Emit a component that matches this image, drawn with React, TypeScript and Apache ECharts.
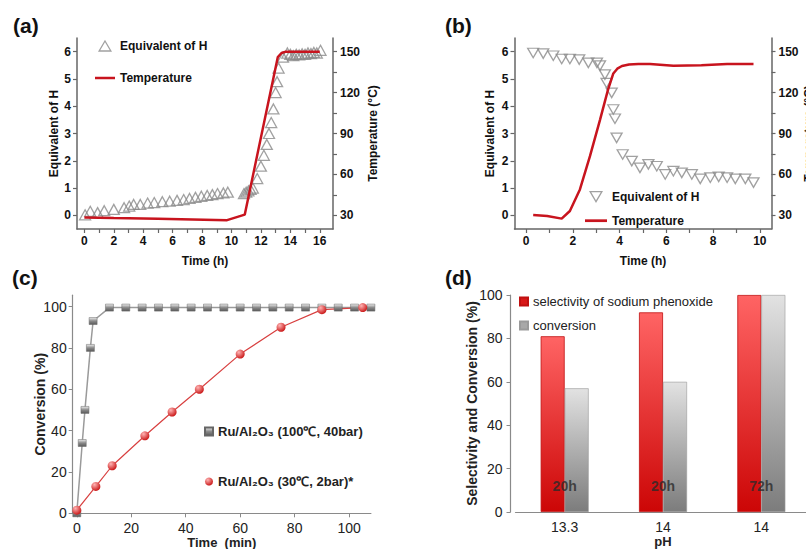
import React, { useEffect, useRef } from "react";
import * as echarts from "echarts";

// ---------- Panel (a) ----------
const aEqTime = [0.05, 0.4, 0.9, 1.35, 2.0, 2.7, 3.05, 3.35, 3.8, 4.3, 4.75, 5.3, 5.8, 6.3, 6.75, 7.15, 7.55, 7.95, 8.35, 8.7, 9.05, 9.45, 9.75,
  10.85, 11.0, 11.15, 11.3, 11.45,
  11.75, 12.0, 12.2, 12.4, 12.55, 12.7, 12.85, 13.0, 13.1, 13.2, 13.5,
  13.8, 14.0, 14.2, 14.4, 14.6, 14.8, 15.0, 15.2, 15.4, 15.6, 15.8, 16.05];
const aEqVal = [0.02, 0.15, 0.1, 0.17, 0.22, 0.28, 0.34, 0.4, 0.4, 0.45, 0.47, 0.5, 0.52, 0.55, 0.58, 0.62, 0.66, 0.7, 0.73, 0.76, 0.8, 0.82, 0.85,
  0.8, 0.85, 0.9, 0.95, 1.0,
  1.35, 1.8, 2.2, 2.6, 3.0, 3.4, 3.9, 4.5, 4.9, 5.4, 5.8,
  5.95, 5.9, 5.85, 5.9, 5.88, 5.92, 5.9, 5.95, 5.93, 5.97, 5.95, 6.05];
const aTempTime = [0, 2, 5, 9.7, 10.9, 13.15, 13.4, 13.7, 16];
const aTempVal = [28.5, 28, 27.5, 26.5, 30.5, 146, 149, 150, 150];

// ---------- Panel (b) ----------
const bEqTime = [0.3, 0.73, 1.16, 1.52, 1.87, 2.27, 2.66, 3.03, 3.16, 3.37, 3.44, 3.66, 3.73, 3.8, 3.87, 4.13, 4.52, 4.87, 5.23, 5.59,
  5.95, 6.3, 6.66, 7.09, 7.45, 7.88, 8.24, 8.6, 8.95, 9.38, 9.73];
const bEqVal = [5.95, 5.93, 5.85, 5.73, 5.73, 5.71, 5.59, 5.59, 5.49, 5.16, 4.85, 4.49, 3.88, 3.54, 2.84, 2.23, 1.99, 1.74, 1.87, 1.8,
  1.5, 1.62, 1.56, 1.5, 1.34, 1.38, 1.41, 1.38, 1.34, 1.34, 1.2];
const bTempTime = [0.3, 0.9, 1.52, 1.87, 2.3, 2.73, 3.16, 3.5, 3.73, 3.9, 4.1, 4.4, 4.8, 5.3, 6.3, 7.5, 8.6, 9.73];
const bTempVal = [30.2, 29.5, 27.6, 33.2, 49, 73.4, 100, 122, 134, 137.5, 139.5, 140.6, 141, 141, 139.7, 140, 141, 141];

const hLabels = [0, 1, 2, 3, 4, 5, 6];
const tempLabels = [30, 60, 90, 120, 150];
const tempTicks = [30, 45, 60, 75, 90, 105, 120, 135, 150];
const aTimeLabels = [0, 2, 4, 6, 8, 10, 12, 14, 16];
const aTimeTicks = [0, 1, 2, 3, 4, 5, 6, 7, 8, 9, 10, 11, 12, 13, 14, 15, 16];
const bTimeLabels = [0, 2, 4, 6, 8, 10];
const bTimeTicks = [0, 1, 2, 3, 4, 5, 6, 7, 8, 9, 10];

// ---------- Panel (c) ----------
const cGrayTime = [0, 2, 3, 5, 6, 12, 18, 24, 30, 36, 42, 48, 54, 60, 66, 72, 78, 84, 90, 96, 102, 108];
const cGrayVal = [0, 34, 50, 80, 93, 99.5, 99.5, 99.5, 99.5, 99.5, 99.5, 99.5, 99.5, 99.5, 99.5, 99.5, 99.5, 99.5, 99.5, 99.5, 99.5, 99.5];
const cRedTime = [0, 7, 13, 25, 35, 45, 60, 75, 90, 105];
const cRedVal = [1.5, 13, 23, 37.5, 49, 60, 77, 90, 98.5, 99.5];
const cLabels = [0, 20, 40, 60, 80, 100];
const cGrayName = "Ru/Al\u2082O\u2083 (100\u2103, 40bar)";
const cRedName = "Ru/Al\u2082O\u2083 (30\u2103, 2bar)*";

// ---------- Panel (d) ----------
const phLabels = ["13.3", "14", "14"];
const selectivity = [81, 92, 100];
const conversion = [57, 60, 100];
const durations = ["20h", "20h", "72h"];

const FONT = "'Liberation Sans', Arial, Helvetica, sans-serif";

const zip = (xs: number[], ys: number[]) => xs.map((x, i) => [x, ys[i]]);

const darkAxisLine = { show: true, onZero: false, lineStyle: { color: "#666", width: 1.5 } };
const boldLabel = { fontFamily: FONT, fontWeight: "bold", fontSize: 12, color: "#111" };
const boldName = { fontFamily: FONT, fontWeight: "bold", fontSize: 12, color: "#111" };
const greyAxisLine = { show: true, onZero: false, lineStyle: { color: "#8a8a8a", width: 1.2 } };
const plainLabel = { fontFamily: FONT, fontSize: 14, color: "#222" };
const boldName14 = { fontFamily: FONT, fontWeight: "bold", fontSize: 14, color: "#222" };
const boldName13 = { fontFamily: FONT, fontWeight: "bold", fontSize: 13, color: "#222" };

const redGrad = new echarts.graphic.LinearGradient(0, 0, 0, 1, [
  { offset: 0, color: "#ff6464" },
  { offset: 1, color: "#cc0606" },
]);
const grayGrad = new echarts.graphic.LinearGradient(0, 0, 0, 1, [
  { offset: 0, color: "#e2e2e2" },
  { offset: 1, color: "#7c7c7c" },
]);
const squareGrad = new echarts.graphic.LinearGradient(0, 0, 0, 1, [
  { offset: 0, color: "#eeeeee" },
  { offset: 0.5, color: "#8a8a8a" },
  { offset: 1, color: "#5a5a5a" },
]);
const redBall = new echarts.graphic.RadialGradient(0.35, 0.3, 0.75, [
  { offset: 0, color: "#ffb4b4" },
  { offset: 1, color: "#c81212" },
]);

const UP_TRI = "path://M10,0L20,17L0,17Z";
const DOWN_TRI = "path://M0,0L20,0L10,17Z";
const LINE_ICON = "path://M0,0L40,0L40,5L0,5Z";
const RED = "#c8141e";
const hollowTri = { color: "rgba(255,255,255,0)", borderColor: "#8a8a8a", borderWidth: 1.3 };

export default function App() {
  const ref = useRef<HTMLDivElement>(null);
  useEffect(() => {
    if (!ref.current) return;
    const chart = echarts.init(ref.current, undefined, { renderer: "svg" });
    const option: any = {
      animation: false,
      backgroundColor: "#ffffff",
      textStyle: { fontFamily: FONT },
      grid: [
        { left: 77, top: 38, width: 256, height: 191, outerBoundsMode: "none", containLabel: false },
        { left: 514.5, top: 38, width: 257, height: 191, outerBoundsMode: "none", containLabel: false },
        { left: 72.7, top: 295.2, width: 298.2, height: 218.1, outerBoundsMode: "none", containLabel: false },
        { left: 515.5, top: 295, width: 295, height: 217, outerBoundsMode: "none", containLabel: false },
      ],
      xAxis: [
        {
          gridIndex: 0, type: "value", min: -0.5, max: 16.9,
          axisLine: darkAxisLine,
          axisTick: { show: true, length: 4, customValues: aTimeTicks, lineStyle: { color: "#666", width: 1.2 } },
          axisLabel: { ...boldLabel, margin: 6, customValues: aTimeLabels },
          splitLine: { show: false },
          name: "Time (h)", nameLocation: "middle", nameGap: 26, nameMoveOverlap: false, nameTextStyle: boldName,
        },
        {
          gridIndex: 1, type: "value", min: -0.5, max: 10.5,
          axisLine: darkAxisLine,
          axisTick: { show: true, length: 4, customValues: bTimeTicks, lineStyle: { color: "#666", width: 1.2 } },
          axisLabel: { ...boldLabel, margin: 6, customValues: bTimeLabels },
          splitLine: { show: false },
          name: "Time (h)", nameLocation: "middle", nameGap: 26, nameMoveOverlap: false, nameTextStyle: boldName,
        },
        {
          gridIndex: 2, type: "value", min: -1.5, max: 108,
          axisLine: greyAxisLine,
          axisTick: { show: true, length: 4, customValues: cLabels, lineStyle: { color: "#8a8a8a" } },
          axisLabel: { ...plainLabel, margin: 8, customValues: cLabels },
          splitLine: { show: false },
          name: "Time  (min)", nameLocation: "middle", nameGap: 23, nameMoveOverlap: false, nameTextStyle: boldName13,
        },
        {
          gridIndex: 3, type: "category", data: phLabels,
          axisLine: greyAxisLine,
          axisTick: { show: false },
          axisLabel: { ...plainLabel, margin: 8 },
          splitLine: { show: false },
          name: "pH", nameLocation: "middle", nameGap: 23, nameMoveOverlap: false, nameTextStyle: boldName13,
        },
      ],
      yAxis: [
        {
          gridIndex: 0, type: "value", min: -0.5, max: 6.5, position: "left",
          axisLine: darkAxisLine,
          axisTick: { show: true, length: 4, customValues: hLabels, lineStyle: { color: "#666", width: 1.2 } },
          axisLabel: { ...boldLabel, margin: 6, customValues: hLabels },
          splitLine: { show: false },
          name: "Equivalent of H", nameLocation: "middle", nameGap: 17, nameMoveOverlap: false, nameTextStyle: boldName,
        },
        {
          gridIndex: 0, type: "value", min: 20, max: 160, position: "right",
          axisLine: darkAxisLine,
          axisTick: { show: true, length: 4, customValues: tempTicks, lineStyle: { color: "#666", width: 1.2 } },
          axisLabel: { ...boldLabel, margin: 7, customValues: tempLabels },
          splitLine: { show: false },
          name: "Temperature (\u00B0C)", nameLocation: "middle", nameGap: 34, nameRotate: 90, nameMoveOverlap: false, nameTextStyle: boldName,
        },
        {
          gridIndex: 1, type: "value", min: -0.5, max: 6.5, position: "left",
          axisLine: darkAxisLine,
          axisTick: { show: true, length: 4, customValues: hLabels, lineStyle: { color: "#666", width: 1.2 } },
          axisLabel: { ...boldLabel, margin: 6, customValues: hLabels },
          splitLine: { show: false },
          name: "Equivalent of H", nameLocation: "middle", nameGap: 19, nameMoveOverlap: false, nameTextStyle: boldName,
        },
        {
          gridIndex: 1, type: "value", min: 20, max: 160, position: "right",
          axisLine: darkAxisLine,
          axisTick: { show: true, length: 4, customValues: tempTicks, lineStyle: { color: "#666", width: 1.2 } },
          axisLabel: { ...boldLabel, margin: 7, customValues: tempLabels },
          splitLine: { show: false },
          name: "Temperature (\u00B0C)", nameLocation: "middle", nameGap: 31, nameRotate: 90, nameMoveOverlap: false, nameTextStyle: boldName,
        },
        {
          gridIndex: 2, type: "value", min: 0, max: 105.5,
          axisLine: greyAxisLine,
          axisTick: { show: true, length: 4, customValues: cLabels, lineStyle: { color: "#8a8a8a" } },
          axisLabel: { ...plainLabel, margin: 6, customValues: cLabels },
          splitLine: { show: false },
          name: "Conversion (%)", nameLocation: "middle", nameGap: 26, nameMoveOverlap: false, nameTextStyle: boldName14,
        },
        {
          gridIndex: 3, type: "value", min: 0, max: 100, interval: 20, offset: 5,
          axisLine: greyAxisLine,
          axisTick: { show: true, length: 4, lineStyle: { color: "#8a8a8a" } },
          axisLabel: { ...plainLabel, margin: 8 },
          splitLine: { show: false },
          name: "Selectivity and Conversion (%)", nameLocation: "middle", nameGap: 32, nameMoveOverlap: false, nameTextStyle: boldName14,
        },
      ],
      legend: [
        {
          left: 95, top: 40, orient: "vertical", padding: 0, itemWidth: 20, itemHeight: 10, itemGap: 20,
          selectedMode: false, textStyle: { ...boldLabel },
          data: [
            { name: "Equivalent of H", icon: UP_TRI, itemStyle: hollowTri },
            { name: "Temperature", icon: LINE_ICON, itemStyle: { color: RED, borderWidth: 0 } },
          ],
        },
        {
          left: 585, top: 190.7, orient: "vertical", padding: 0, itemWidth: 22, itemHeight: 10, itemGap: 12,
          selectedMode: false, textStyle: { ...boldLabel },
          data: [
            { name: "Equivalent of H", icon: DOWN_TRI, itemStyle: hollowTri },
            { name: "Temperature", icon: LINE_ICON, itemStyle: { color: RED, borderWidth: 0 } },
          ],
        },
        {
          left: 204, top: 425, orient: "vertical", padding: 0, itemWidth: 8, itemHeight: 8, itemGap: 37,
          selectedMode: false, textStyle: { fontFamily: FONT, fontWeight: "bold", fontSize: 13, color: "#222" },
          data: [
            { name: cGrayName, icon: "rect", itemStyle: { color: squareGrad } },
            { name: cRedName, icon: "circle", itemStyle: { color: redBall } },
          ],
        },
        {
          left: 519, top: 295, orient: "vertical", padding: 0, itemWidth: 8, itemHeight: 8, itemGap: 11,
          selectedMode: false, textStyle: { fontFamily: FONT, fontSize: 13, color: "#222" },
          data: [
            { name: "selectivity of sodium phenoxide", icon: "rect", itemStyle: { color: "#d81818" } },
            { name: "conversion", icon: "rect", itemStyle: { color: "#a8a8a8" } },
          ],
        },
      ],
      graphic: [
        { type: "text", left: 13, top: 15, style: { text: "(a)", fontSize: 21, fontWeight: "bold", fontFamily: FONT, fill: "#111" } },
        { type: "text", left: 445, top: 15, style: { text: "(b)", fontSize: 21, fontWeight: "bold", fontFamily: FONT, fill: "#111" } },
        { type: "text", left: 12, top: 267, style: { text: "(c)", fontSize: 21, fontWeight: "bold", fontFamily: FONT, fill: "#111" } },
        { type: "text", left: 445, top: 267, style: { text: "(d)", fontSize: 21, fontWeight: "bold", fontFamily: FONT, fill: "#111" } },
      ],
      series: [
        {
          type: "scatter", name: "Equivalent of H", xAxisIndex: 0, yAxisIndex: 0,
          data: zip(aEqTime, aEqVal), symbol: UP_TRI, symbolSize: [11, 10], z: 2,
          itemStyle: hollowTri,
        },
        {
          type: "line", name: "Temperature", xAxisIndex: 0, yAxisIndex: 1,
          data: zip(aTempTime, aTempVal), symbol: "none", z: 3,
          lineStyle: { color: RED, width: 2.5 }, itemStyle: { color: RED },
        },
        {
          type: "scatter", name: "Equivalent of H", xAxisIndex: 1, yAxisIndex: 2,
          data: zip(bEqTime, bEqVal), symbol: DOWN_TRI, symbolSize: [11, 9.5], z: 2,
          itemStyle: hollowTri,
        },
        {
          type: "line", name: "Temperature", xAxisIndex: 1, yAxisIndex: 3,
          data: zip(bTempTime, bTempVal), symbol: "none", z: 3,
          lineStyle: { color: RED, width: 2.5 }, itemStyle: { color: RED },
        },
        {
          type: "line", name: cGrayName, xAxisIndex: 2, yAxisIndex: 4,
          data: zip(cGrayTime, cGrayVal), symbol: "rect", symbolSize: [8, 7], showSymbol: true,
          lineStyle: { color: "#9a9a9a", width: 1.5 },
          itemStyle: { color: squareGrad, borderColor: "#666", borderWidth: 0.5 },
        },
        {
          type: "line", name: cRedName, xAxisIndex: 2, yAxisIndex: 4,
          data: zip(cRedTime, cRedVal), symbol: "circle", symbolSize: 9, showSymbol: true,
          lineStyle: { color: "#d84040", width: 1.2 },
          itemStyle: { color: redBall },
        },
        {
          type: "bar", name: "selectivity of sodium phenoxide", xAxisIndex: 3, yAxisIndex: 5,
          data: selectivity, barWidth: 24, barGap: "0%",
          itemStyle: { color: redGrad, borderColor: "#c01010", borderWidth: 0.8 },
        },
        {
          type: "bar", name: "conversion", xAxisIndex: 3, yAxisIndex: 5,
          data: conversion, barWidth: 24, barGap: "0%",
          itemStyle: { color: grayGrad, borderColor: "#9a9a9a", borderWidth: 0.6 },
        },
        {
          type: "scatter", name: "duration", xAxisIndex: 3, yAxisIndex: 5, z: 5,
          symbolSize: 1, itemStyle: { color: "rgba(0,0,0,0)" },
          data: durations.map((d, i) => ({ value: [i, 12], label: { formatter: d } })),
          label: { show: true, position: "inside", fontFamily: FONT, fontWeight: "bold", fontSize: 14, color: "#2a2a2a" },
        },
      ],
    };
    chart.setOption(option);
    return () => chart.dispose();
  }, []);
  return <div ref={ref} style={{ position: "fixed", left: 0, top: 0, width: 806, height: 549 }} />;
}
